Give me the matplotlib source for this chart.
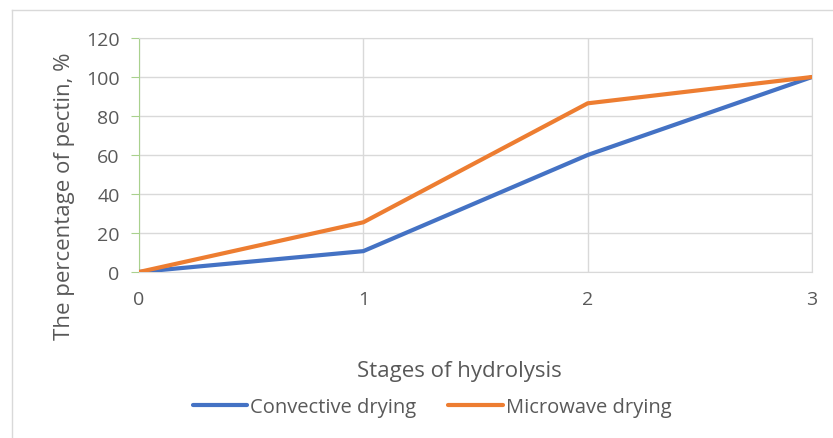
import matplotlib
matplotlib.use('Agg')
from matplotlib import pyplot as plt
from matplotlib.lines import Line2D

plt.rcParams['font.family'] = ['Open Sans', 'DejaVu Sans']

stages = [0, 1, 2, 3]
convective = [0, 10.7, 60, 100]
microwave = [0, 25.5, 86.5, 100]
yticks = [0, 20, 40, 60, 80, 100, 120]

blue = '#4472C4'
orange = '#ED7D31'
grid_c = '#D9D9D9'
text_c = '#595959'
green = '#A9D18E'

fig = plt.figure(figsize=(8.33, 4.39), dpi=100)
ax = fig.add_axes([139/833, 1-273/439, (812-139)/833, (273-39)/439])

ax.plot(stages, convective, color=blue, lw=3, solid_capstyle='round', label='Convective drying', zorder=3)
ax.plot(stages, microwave, color=orange, lw=3, solid_capstyle='round', label='Microwave drying', zorder=3)

ax.set_xlim(0, 3)
ax.set_ylim(0, 120)
ax.set_xticks(stages)
ax.set_yticks(yticks)
ax.grid(True, color=grid_c, lw=1)
ax.set_axisbelow(True)
for s in ['top', 'right', 'bottom']:
    ax.spines[s].set_color(grid_c)
ax.spines['left'].set_color(green)
ax.tick_params(colors=text_c, labelsize=14)
ax.tick_params(axis='x', length=0, pad=13)
ax.tick_params(axis='y', length=6, color=green, pad=8)

ax.set_xlabel('Stages of hydrolysis', color=text_c, fontsize=16)
ax.set_ylabel('The percentage of pectin, %', color=text_c, fontsize=16)
ax.xaxis.set_label_coords((459-139)/(812-139), -(372-273)/(273-39))
ax.yaxis.set_label_coords(-(139-65)/(812-139), (273-196)/(273-39))
ax.xaxis.label.set_va('center')
ax.yaxis.label.set_va('center')

leg = fig.legend(loc='center', bbox_to_anchor=(432/833, 1-408/439), ncol=2, frameon=False,
                 fontsize=14.5, labelcolor=text_c, handlelength=2.7, handletextpad=0.15,
                 columnspacing=1.6)

# chart border
fig.add_artist(Line2D([12/833, 1], [1-11/439, 1-11/439], color='#D9D9D9', lw=1))
fig.add_artist(Line2D([12/833, 12/833], [1-11/439, 0], color='#D9D9D9', lw=1))

fig.savefig('out.png', dpi=100)
